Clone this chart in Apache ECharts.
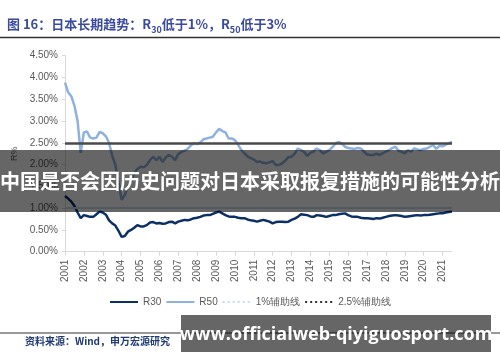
<!DOCTYPE html>
<html><head><meta charset="utf-8">
<script src="https://cdn.jsdelivr.net/npm/echarts@6/dist/echarts.min.js"></script>
<style>html,body{margin:0;padding:0;background:#fff}#c{width:500px;height:362px}</style>
</head><body><div id="c"></div>
<script>
const YEARS = ['2001','2002','2003','2004','2005','2006','2007','2008','2009','2010','2011','2012','2013','2014','2015','2016','2017','2018','2019','2020','2021'];
const MONTHS = ['01','03','05','07','09','11'];
const Y_TICKS = [0,0.5,1,1.5,2,2.5,3,3.5,4,4.5];
const R30 = [
1.28,1.22,1.15,1.05,0.90,0.77,0.84,0.82,0.80,0.80,
0.86,0.92,0.90,0.85,0.72,0.65,0.60,0.48,0.34,0.36,
0.46,0.50,0.55,0.61,0.58,0.58,0.61,0.67,0.68,0.65,
0.66,0.64,0.65,0.68,0.69,0.65,0.69,0.71,0.73,0.72,
0.74,0.77,0.78,0.80,0.83,0.84,0.84,0.87,0.90,0.92,
0.88,0.84,0.81,0.80,0.80,0.78,0.77,0.77,0.74,0.72,
0.71,0.69,0.71,0.73,0.71,0.69,0.65,0.68,0.69,0.69,
0.68,0.69,0.73,0.76,0.80,0.86,0.85,0.84,0.81,0.80,
0.84,0.83,0.82,0.80,0.82,0.84,0.84,0.86,0.87,0.88,
0.84,0.81,0.80,0.80,0.78,0.77,0.77,0.76,0.75,0.77,
0.76,0.78,0.80,0.82,0.83,0.84,0.83,0.82,0.80,0.81,
0.82,0.83,0.84,0.83,0.84,0.84,0.85,0.86,0.87,0.88,
0.88,0.90,0.91,0.92];
const R50 = [
3.88,3.66,3.57,3.35,3.00,2.27,2.74,2.76,2.62,2.60,
2.62,2.75,2.72,2.65,2.50,2.20,2.00,1.60,1.19,1.30,
1.50,1.62,1.80,1.90,1.95,1.94,1.99,2.10,2.18,2.10,
2.18,2.06,2.16,2.22,2.18,2.10,2.24,2.29,2.32,2.36,
2.44,2.49,2.47,2.51,2.58,2.60,2.62,2.64,2.74,2.82,
2.77,2.74,2.60,2.60,2.56,2.46,2.34,2.26,2.19,2.15,
2.12,2.06,2.07,2.04,2.03,2.05,2.08,1.99,1.99,2.03,
2.09,2.17,2.18,2.25,2.37,2.33,2.29,2.20,2.27,2.30,
2.37,2.33,2.26,2.29,2.33,2.40,2.49,2.52,2.48,2.41,
2.38,2.37,2.36,2.38,2.37,2.30,2.23,2.22,2.22,2.25,
2.22,2.26,2.30,2.33,2.38,2.41,2.32,2.29,2.26,2.33,
2.30,2.37,2.35,2.33,2.36,2.37,2.41,2.45,2.36,2.43,
2.42,2.46,2.49,2.52];
const REF_1 = 1.0;
const REF_25 = 2.5;
const NAMES = ['R30','R50','1%辅助线','2.5%辅助线'];

const categories = [];
YEARS.forEach(y => MONTHS.forEach(m => categories.push(y + '-' + m)));
categories.length = R30.length;

const isJan = (i, v) => String(v).endsWith('-01');
const grey = '#595959';
const chart = echarts.init(document.getElementById('c'));
chart.setOption({
  animation: false,
  title: {
    left: 2, top: 8,
    text: '{a|图 16：日本长期趋势：R}{s|30}{a|低于1%，R}{s|50}{a|低于3%}',
    textStyle: {
      rich: {
        a: {fontSize: 13, fontWeight: 'bold', color: '#3a4a9f', fontFamily: 'Noto Sans CJK SC', lineHeight: 18, verticalAlign: 'bottom'},
        s: {fontSize: 9, fontWeight: 'bold', color: '#3a4a9f', fontFamily: 'Noto Sans CJK SC', lineHeight: 12, verticalAlign: 'bottom', padding: [0,0,-3,0]}
      }
    }
  },
  grid: {left: 65, right: 48, top: 55.7, bottom: 110.3},
  legend: {
    data: NAMES, left: 104, top: 292, itemWidth: 28, itemHeight: 10, itemGap: 4,
    itemStyle: {color: 'transparent', borderWidth: 0, opacity: 0},
    textStyle: {color: grey, fontSize: 10, fontFamily: 'Liberation Sans'}
  },
  xAxis: {
    type: 'category', data: categories, boundaryGap: false,
    axisLine: {lineStyle: {color: '#d9d9d9', width: 1}},
    axisTick: {interval: isJan, length: 4, lineStyle: {color: '#d9d9d9'}},
    axisLabel: {interval: isJan, rotate: 90, formatter: v => v.slice(0,4), color: grey, fontSize: 10, fontFamily: 'Liberation Sans', margin: 8},
    splitLine: {show: false}
  },
  yAxis: {
    type: 'value', min: Y_TICKS[0], max: Y_TICKS[Y_TICKS.length-1], interval: 0.5,
    name: 'R%', nameLocation: 'middle', nameGap: 44, nameRotate: 90,
    nameTextStyle: {color: grey, fontSize: 9, fontFamily: 'Liberation Sans'},
    axisLine: {show: true, lineStyle: {color: '#d9d9d9'}},
    axisTick: {show: true, length: 3, lineStyle: {color: '#d9d9d9'}},
    axisLabel: {formatter: v => v.toFixed(2) + '%', color: grey, fontSize: 10, fontFamily: 'Liberation Sans', margin: 7},
    splitLine: {show: false}
  },
  series: [
    {name: NAMES[0], type: 'line', data: R30, showSymbol: false, symbol: 'none', lineStyle: {color: '#0c2f66', width: 2.5}, itemStyle: {color: '#0c2f66'}, z: 4},
    {name: NAMES[1], type: 'line', data: R50, showSymbol: false, symbol: 'none', lineStyle: {color: '#8fb1df', width: 2.5}, itemStyle: {color: '#8fb1df'}, z: 3},
    {name: NAMES[2], type: 'line', data: [], symbol: 'none', lineStyle: {color: '#c9dbf2', width: 2, type: [2,3]}, itemStyle: {color: '#c9dbf2'},
      markLine: {silent: true, symbol: 'none', label: {show: false}, lineStyle: {color: '#c9dbf2', width: 2, type: 'solid'}, data: [{yAxis: REF_1}]}},
    {name: NAMES[3], type: 'line', data: [], symbol: 'none', lineStyle: {color: '#333333', width: 2, type: [2,3]}, itemStyle: {color: '#333'},
      markLine: {silent: true, symbol: 'none', label: {show: false}, lineStyle: {color: '#4a4a4a', width: 2.5, type: 'solid'}, data: [{yAxis: REF_25}]}}
  ],
  graphic: [
    {type: 'line', shape: {x1: 0, y1: 37.5, x2: 500, y2: 37.5}, style: {stroke: '#333', lineWidth: 1.5}, z: 10},
    {type: 'line', shape: {x1: 0, y1: 333, x2: 500, y2: 333}, style: {stroke: '#333', lineWidth: 1.2}, z: 10},
    {type: 'text', left: 25, top: 336, style: {text: '资料来源：Wind，申万宏源研究', fill: '#1f3a75', font: 'bold 10px "Noto Sans CJK SC"'}, z: 10},
    {type: 'rect', shape: {x: 0, y: 150, width: 500, height: 62}, style: {fill: 'rgba(0,0,0,0.6)'}, z: 100},
    {type: 'text', x: 250, y: 181, style: {text: '中国是否会因历史问题对日本采取报复措施的可能性分析', fill: '#fff', font: 'bold 20px "Noto Sans CJK SC"', align: 'center', verticalAlign: 'middle'}, z: 101},
    {type: 'rect', shape: {x: 181, y: 315, width: 310, height: 37}, style: {fill: 'rgba(0,0,0,0.6)'}, z: 100},
    {type: 'text', x: 336, y: 335, style: {text: 'www.officialweb-qiyiguosport.com', fill: '#fff', font: 'bold 18px "Open Sans"', align: 'center', verticalAlign: 'middle'}, z: 101}
  ]
});
</script></body></html>
